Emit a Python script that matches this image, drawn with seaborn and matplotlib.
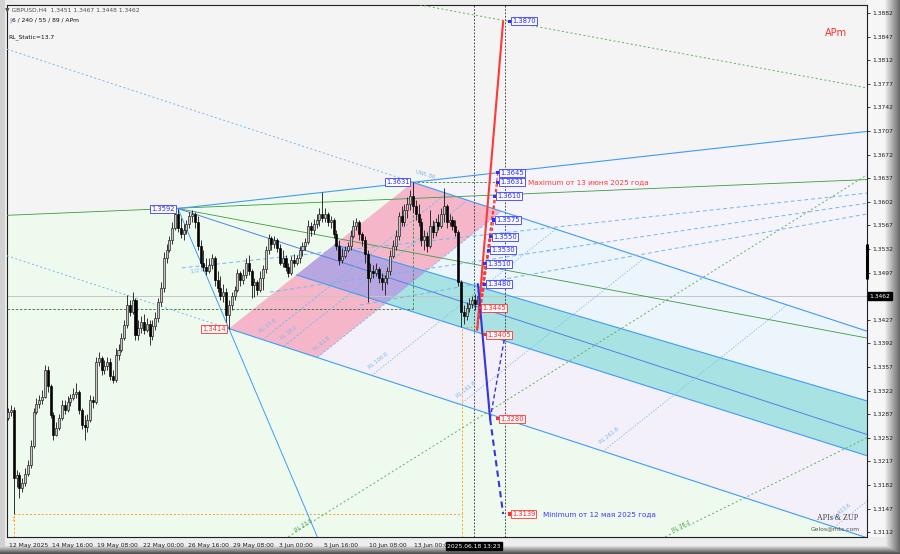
import numpy as np
import pandas as pd
import matplotlib
matplotlib.use("Agg")
import matplotlib.pyplot as plt
import matplotlib.transforms as mtransforms
from matplotlib.patches import Polygon
import seaborn as sns

sns.set_theme(style="white")
plt.rcParams["font.family"] = ["DejaVu Sans"]

# ---------------- GBPUSD H4 candles (bar 1 .. 167) ----------------
closes = [
    1.3290, 1.3293, 1.3192, 1.3197, 1.3178, 1.3185, 1.3198, 1.3212, 1.3240, 1.3290,
    1.3302, 1.3308, 1.3313, 1.3353, 1.3329, 1.3286, 1.3256, 1.3267, 1.3281, 1.3301,
    1.3293, 1.3305, 1.3311, 1.3317, 1.3320, 1.3293, 1.3271, 1.3268, 1.3278, 1.3308,
    1.3305, 1.3364, 1.3370, 1.3353, 1.3358, 1.3364, 1.3344, 1.3338, 1.3375, 1.3382,
    1.3400, 1.3419, 1.3449, 1.3439, 1.3456, 1.3405, 1.3415, 1.3424, 1.3412, 1.3421,
    1.3403, 1.3418, 1.3430, 1.3453, 1.3474, 1.3518, 1.3530, 1.3545, 1.3563, 1.3584,
    1.3563, 1.3554, 1.3560, 1.3569, 1.3581, 1.3584, 1.3572, 1.3536, 1.3512, 1.3506,
    1.3500, 1.3509, 1.3518, 1.3486, 1.3474, 1.3462, 1.3468, 1.3434, 1.3449, 1.3462,
    1.3471, 1.3497, 1.3486, 1.3494, 1.3512, 1.3500, 1.3478, 1.3483, 1.3471, 1.3489,
    1.3503, 1.3530, 1.3548, 1.3539, 1.3545, 1.3533, 1.3512, 1.3518, 1.3506, 1.3497,
    1.3515, 1.3512, 1.3518, 1.3530, 1.3536, 1.3542, 1.3566, 1.3560, 1.3569, 1.3575,
    1.3584, 1.3578, 1.3584, 1.3572, 1.3575, 1.3554, 1.3536, 1.3515, 1.3521, 1.3530,
    1.3536, 1.3551, 1.3566, 1.3572, 1.3554, 1.3545, 1.3524, 1.3489, 1.3500, 1.3497,
    1.3503, 1.3489, 1.3483, 1.3489, 1.3500, 1.3521, 1.3536, 1.3551, 1.3581, 1.3572,
    1.3590, 1.3599, 1.3611, 1.3596, 1.3584, 1.3572, 1.3545, 1.3551, 1.3536, 1.3566,
    1.3557, 1.3572, 1.3566, 1.3584, 1.3596, 1.3572, 1.3575, 1.3566, 1.3557, 1.3483,
    1.3439, 1.3433, 1.3444, 1.3450, 1.3456, 1.3451, 1.3462,
]
highs = [
    1.3296, 1.3301, 1.3298, 1.3204, 1.3201, 1.3192, 1.3207, 1.3219, 1.3249, 1.3296,
    1.3311, 1.3316, 1.3323, 1.3360, 1.3358, 1.3332, 1.3290, 1.3275, 1.3287, 1.3308,
    1.3308, 1.3314, 1.3317, 1.3326, 1.3333, 1.3323, 1.3296, 1.3286, 1.3287, 1.3316,
    1.3314, 1.3372, 1.3379, 1.3373, 1.3367, 1.3372, 1.3370, 1.3353, 1.3385, 1.3391,
    1.3407, 1.3427, 1.3464, 1.3456, 1.3468, 1.3459, 1.3427, 1.3433, 1.3436, 1.3430,
    1.3427, 1.3427, 1.3439, 1.3459, 1.3483, 1.3527, 1.3539, 1.3551, 1.3572, 1.3590,
    1.3592, 1.3578, 1.3569, 1.3575, 1.3587, 1.3590, 1.3587, 1.3581, 1.3545, 1.3530,
    1.3518, 1.3518, 1.3524, 1.3521, 1.3500, 1.3492, 1.3480, 1.3474, 1.3456, 1.3468,
    1.3477, 1.3503, 1.3500, 1.3503, 1.3518, 1.3523, 1.3503, 1.3489, 1.3486, 1.3500,
    1.3508, 1.3536, 1.3554, 1.3551, 1.3551, 1.3548, 1.3539, 1.3530, 1.3523, 1.3512,
    1.3521, 1.3524, 1.3523, 1.3536, 1.3542, 1.3548, 1.3575, 1.3572, 1.3577, 1.3584,
    1.3593, 1.3617, 1.3593, 1.3587, 1.3581, 1.3578, 1.3560, 1.3545, 1.3533, 1.3536,
    1.3542, 1.3560, 1.3575, 1.3578, 1.3575, 1.3557, 1.3551, 1.3530, 1.3512, 1.3509,
    1.3512, 1.3506, 1.3497, 1.3494, 1.3506, 1.3530, 1.3545, 1.3560, 1.3587, 1.3596,
    1.3599, 1.3609, 1.3620, 1.3631, 1.3605, 1.3599, 1.3578, 1.3560, 1.3557, 1.3590,
    1.3575, 1.3578, 1.3584, 1.3593, 1.3623, 1.3599, 1.3584, 1.3581, 1.3575, 1.3560,
    1.3486, 1.3449, 1.3453, 1.3459, 1.3462, 1.3465, 1.3467,
]
lows = [
    1.3278, 1.3284, 1.3139, 1.3179, 1.3163, 1.3172, 1.3181, 1.3195, 1.3207, 1.3237,
    1.3287, 1.3296, 1.3302, 1.3311, 1.3320, 1.3281, 1.3249, 1.3255, 1.3264, 1.3278,
    1.3287, 1.3290, 1.3299, 1.3308, 1.3311, 1.3287, 1.3265, 1.3249, 1.3261, 1.3275,
    1.3296, 1.3302, 1.3358, 1.3345, 1.3347, 1.3353, 1.3338, 1.3333, 1.3335, 1.3367,
    1.3379, 1.3397, 1.3415, 1.3433, 1.3436, 1.3397, 1.3397, 1.3407, 1.3406, 1.3409,
    1.3390, 1.3397, 1.3412, 1.3424, 1.3447, 1.3468, 1.3512, 1.3527, 1.3539, 1.3560,
    1.3557, 1.3548, 1.3545, 1.3554, 1.3563, 1.3572, 1.3563, 1.3530, 1.3506, 1.3500,
    1.3494, 1.3497, 1.3503, 1.3477, 1.3468, 1.3456, 1.3453, 1.3424, 1.3414, 1.3441,
    1.3456, 1.3468, 1.3477, 1.3480, 1.3489, 1.3494, 1.3459, 1.3461, 1.3464, 1.3468,
    1.3471, 1.3497, 1.3524, 1.3530, 1.3533, 1.3527, 1.3508, 1.3506, 1.3500, 1.3490,
    1.3494, 1.3506, 1.3509, 1.3512, 1.3521, 1.3530, 1.3539, 1.3551, 1.3554, 1.3563,
    1.3566, 1.3572, 1.3572, 1.3566, 1.3563, 1.3548, 1.3530, 1.3509, 1.3512, 1.3518,
    1.3527, 1.3530, 1.3548, 1.3560, 1.3545, 1.3536, 1.3512, 1.3453, 1.3483, 1.3489,
    1.3492, 1.3481, 1.3471, 1.3464, 1.3480, 1.3494, 1.3518, 1.3530, 1.3545, 1.3566,
    1.3566, 1.3578, 1.3590, 1.3587, 1.3575, 1.3566, 1.3536, 1.3530, 1.3527, 1.3533,
    1.3548, 1.3551, 1.3560, 1.3563, 1.3572, 1.3563, 1.3566, 1.3560, 1.3551, 1.3477,
    1.3416, 1.3421, 1.3427, 1.3439, 1.3444, 1.3441, 1.3448,
]
first_open = 1.3281
bars = list(range(1, len(closes) + 1))
opens = [first_open] + closes[:-1]          # each H4 bar opens at the prior close

# ---------------- axes ----------------
date_ticks = [0.65, 16, 32, 48, 64, 80, 96, 112, 128, 144]
date_labels = ["12 May 2025", "14 May 16:00", "19 May 08:00", "22 May 00:00",
               "26 May 16:00", "29 May 08:00", "3 Jun 00:00", "5 Jun 16:00",
               "10 Jun 08:00", "13 Jun 00:00"]
price_ticks = [1.3882, 1.3847, 1.3812, 1.3777, 1.3742, 1.3707, 1.3672, 1.3637,
               1.3602, 1.3567, 1.3532, 1.3497, 1.3462, 1.3427, 1.3392, 1.3357,
               1.3322, 1.3287, 1.3252, 1.3217, 1.3182, 1.3147, 1.3112]
bar_range = (0.6, 304.45)
price_range = (1.31049, 1.38939)
last_price = 1.3462
header_ohlc = [1.3451, 1.3467, 1.3448, 1.3462]
server_time = "2025.06.18 13:23"

# ---------------- pitchfork pivots (bar, price) ----------------
pivot_h1 = (61, 1.3592)
pivot_l1 = (79, 1.3414)
pivot_h2 = (144, 1.3631)
pivot_l2 = (161.4, 1.3416)
may12_low = (3, 1.3139)

# median-zone borders: anchor (bar, price) and slope per bar
zone_top = ((171.3, 1.3471), -0.0001234)
zone_bot = ((164.2, 1.3412), -0.0001330)

rl_levels = [0.236, 0.382, 0.618, 1.0, 1.618, 2.618, 4.236]
rl_names = ["RL 23.6", "RL 38.2", "RL 61.8", "RL 100.0", "RL 161.8", "RL 261.8", "RL 423.6"]

# trend lines: (bar, price) endpoints
green_line_1 = [(0.6, 1.3582), (304.45, 1.3635)]
green_line_2 = [(61, 1.3592), (304.45, 1.3400)]
green_dash_1 = [(146.5, 1.3894), (304.45, 1.3771)]
green_dash_2 = [(99.9, 1.3105), (304.45, 1.3642)]
green_dash_3 = [(233.1, 1.3105), (304.45, 1.3252)]
green_rl_names = ["RL 23.6", "RL 38.2"]
half_ml_lines = [[(62.4, 1.3504), (304.45, 1.3615)],
                 [(93.5, 1.3468), (304.45, 1.3600)],
                 [(125.3, 1.3449), (304.45, 1.3584)]]
box_level = 1.3443
time_marks = [165.6, 176.4]

# ---------------- projection targets ----------------
up_levels = [1.3870, 1.3645, 1.3631, 1.3610, 1.3575, 1.3550, 1.3530, 1.3510, 1.3480]
up_label_bar = [179.0, 174.8, 174.8, 173.7, 173.4, 172.3, 171.6, 170.2, 170.2]
down_levels = [1.3445, 1.3405, 1.3280, 1.3139]
down_label_bar = [168.4, 170.2, 174.8, 179.0]
fan_origin = (166.7, 1.3412)
down_path = [(167.0, 1.3480), (171.3, 1.3280), (175.9, 1.3139)]
down_return = [(171.3, 1.3280), (176.6, 1.3405)]

# ---------------- colours ----------------
C_BLUE = "#3f9cf5"
C_BLUE_L = "#74b6f0"
C_GREEN = "#3e9a3e"
C_GREEN_D = "#5cb25c"
C_RED = "#ff3838"
C_NAVY = "#3434e0"

W, H = 900, 554
PL, PR, PT, PB = 7, 867, 5, 537
fig = plt.figure(figsize=(W / 100, H / 100), dpi=100)

# terminal frame with shaded scale panels
bgax = fig.add_axes([0, 0, 1, 1], zorder=-5)
img = np.full((H, W), 0.93)
cols = np.arange(W)
rv = np.where(cols < 884, 0.965, 0.965 - 0.55 * np.clip((cols - 884) / 15.0, 0, 1))
img[:, PR:] = rv[PR:]
rows = np.arange(H)
bv = np.where(rows < 545, 0.93, 0.93 - 0.62 * np.clip((rows - 545) / 8.0, 0, 1))
img[PB:, :] = np.minimum(img[PB:, :], bv[PB:, None])
img[:, :5] = np.minimum(img[:, :5], 0.82)
img = np.clip(img, 0, 1)
bgax.imshow(np.dstack([img] * 3), aspect="auto", extent=[0, W, H, 0], interpolation="nearest")
bgax.axis("off")

ax = fig.add_axes([PL / W, (H - PB) / H, (PR - PL) / W, (PB - PT) / H], zorder=1)
ax.set_xlim(*bar_range)
ax.set_ylim(*price_range)
ax.set_facecolor("#f4f4f4")
X0, X1 = bar_range
Y0, Y1 = price_range


def at(p, m, b):
    return p[1] + m * (b - p[0])


def cross(p, m1, q, m2):
    b = (q[1] - p[1] + m1 * p[0] - m2 * q[0]) / (m1 - m2)
    return (b, at(p, m1, b))


def poly(pts, color, z, **kw):
    patch = Polygon(pts, closed=True, facecolor=color, edgecolor="none", zorder=z, **kw)
    ax.add_patch(patch)
    return patch


def seg(p, q, **kw):
    ax.plot([p[0], q[0]], [p[1], q[1]], **kw)


def screen_angle(p, q):
    a = ax.transData.transform(p)
    b = ax.transData.transform(q)
    return np.degrees(np.arctan2(b[1] - a[1], b[0] - a[0]))


H1, L1, H2 = pivot_h1, pivot_l1, pivot_h2
mid = ((L1[0] + H2[0]) / 2, (L1[1] + H2[1]) / 2)
m_med = (mid[1] - H1[1]) / (mid[0] - H1[0])
m_hdl = (H2[1] - L1[1]) / (H2[0] - L1[0])
m_a = (H2[1] - H1[1]) / (H2[0] - H1[0])
rl_unit = mid[0] - H1[0]

(zt_p, zt_m), (zb_p, zb_m) = zone_top, zone_bot
zt_h = cross(zt_p, zt_m, L1, m_hdl)
zb_h = cross(zb_p, zb_m, L1, m_hdl)
zt_r = (X1, at(zt_p, zt_m, X1))
zb_r = (X1, at(zb_p, zb_m, X1))
e_r = (X1, at(H2, m_med, X1))
f_r = (X1, at(L1, m_med, X1))
a_r = (X1, at(H2, m_a, X1))

# shaded regions
poly([(X0, green_line_1[0][1]), H1, a_r, (X1, Y0), (X0, Y0)], "#effaee", 1)
poly([H2, a_r, e_r], "#f5f4fa", 1.1)
poly([H2, e_r, zt_r, zt_h], "#ecf4fc", 1.1)
poly([L1, zb_h, zb_r, f_r], "#f3f0f9", 1.1)
poly([zt_h, zt_r, zb_r, zb_h], "#a9e2e3", 1.2)

rl_f = [(L1[0] + k * rl_unit, at(L1, m_med, L1[0] + k * rl_unit)) for k in rl_levels]
rl_e = [cross(p, m_hdl, H2, m_med) for p in rl_f]
pink = poly([L1, H2, rl_e[2], rl_f[2]], "#f6b6ca", 1.3)
purple = poly([zt_h, zt_r, zb_r, zb_h], "#b7a6df", 1.4)
purple.set_clip_path(pink)

# last price and helper levels
sns.lineplot(x=[X0, X1], y=[last_price, last_price], color="#c4c4c4", lw=0.7, ax=ax, zorder=2)
ax.plot([X0, H2[0]], [box_level, box_level], ls=(0, (3, 2)), color="#2f6f2f", lw=0.6, zorder=3)
ax.plot([H2[0], H2[0]], [box_level, H2[1]], ls=(0, (3, 2)), color="#2f8f2f", lw=0.6, zorder=3)
ax.plot([H2[0], time_marks[1]], [H2[1], H2[1]], ls=(0, (3, 2)), color="#2f8f2f", lw=0.6, zorder=3)
for tm in time_marks:
    ax.axvline(tm, color="#222222", ls=(0, (2, 2)), lw=0.6, zorder=3)

# orange marks of the 12 May low
C_OR = "#f5a623"
ax.plot([may12_low[0], pivot_l2[0]], [may12_low[1]] * 2, ls=(0, (2, 2)), color=C_OR, lw=0.7, zorder=3)
ax.plot([may12_low[0]] * 2, [Y0, may12_low[1]], ls=(0, (2, 2)), color=C_OR, lw=0.7, zorder=3)
ax.plot([pivot_l2[0]] * 2, [Y0, pivot_l2[1]], ls=(0, (2, 2)), color=C_OR, lw=0.7, zorder=3)
ax.plot([pivot_l2[0], 167], [pivot_l2[1]] * 2, ls=(0, (2, 2)), color=C_OR, lw=0.7, zorder=3)

# green lines
seg(*green_line_1, color=C_GREEN, lw=0.6, zorder=3)
seg(*green_line_2, color=C_GREEN, lw=0.6, zorder=3)
for gl in (green_dash_1, green_dash_2, green_dash_3):
    seg(*gl, color=C_GREEN_D, lw=0.7, ls=(0, (2, 2.5)), zorder=3)
for gl, name in zip((green_dash_2, green_dash_3), green_rl_names):
    ang = screen_angle(*gl)
    ax.text(gl[0][0] + 3.0, gl[0][1] + 0.0006, name, fontsize=3.8, color="#3f9f3f",
            rotation=ang, rotation_mode="anchor", ha="left", va="bottom", zorder=5)

# pitchfork
seg(H1, a_r, color=C_BLUE, lw=0.8, zorder=3)
seg((X0, at(H2, m_med, X0)), H2, color=C_BLUE_L, lw=0.7, ls=(0, (2, 2.5)), zorder=3)
seg(H2, e_r, color=C_BLUE, lw=0.8, zorder=3)
seg((X0, at(L1, m_med, X0)), L1, color=C_BLUE_L, lw=0.7, ls=(0, (2, 2.5)), zorder=3)
seg(L1, f_r, color=C_BLUE, lw=0.8, zorder=3)
seg(H1, (X1, at(H1, m_med, X1)), color="#4d84e8", lw=0.7, zorder=3)
seg(zt_h, zt_r, color=C_BLUE, lw=0.8, zorder=3)
seg(zb_h, zb_r, color=C_BLUE, lw=0.8, zorder=3)
m_c = (L1[1] - H1[1]) / (L1[0] - H1[0])
seg(H1, (H1[0] + (Y0 - H1[1]) / m_c, Y0), color=C_BLUE, lw=0.7, zorder=3)
for ln in half_ml_lines:
    seg(*ln, color=C_BLUE_L, lw=0.7, ls=(0, (4, 3)), zorder=3)

# reaction lines
for k, pf, pe, name in zip(rl_levels, rl_f, rl_e, rl_names):
    style = (0, (3, 2)) if k < 1 else (0, (1.5, 2))
    seg(pf, pe, color=C_BLUE_L, lw=0.6, ls=style, zorder=3)
    ax.text(pf[0] - 1.5, pf[1] + 0.0009, name, fontsize=3.8, color=C_BLUE_L,
            rotation=38, ha="left", va="bottom", zorder=5)

# candles
df = pd.DataFrame(dict(bar=bars, open=opens, high=highs, low=lows, close=closes))
up = df.close >= df.open
ax.vlines(df.bar, df.low, df.high, color="#151515", lw=0.6, zorder=6)
ax.bar(df.bar[up], (df.close - df.open)[up].clip(lower=0.00005), bottom=df.open[up], width=0.72,
       color="#c8c8c8", edgecolor="#151515", linewidth=0.45, zorder=7)
ax.bar(df.bar[~up], (df.open - df.close)[~up].clip(lower=0.00005), bottom=df.close[~up], width=0.72,
       color="#000000", edgecolor="#000000", linewidth=0.45, zorder=7)

# projection fan to the targets
seg(fan_origin, (time_marks[1] - 0.5, up_levels[0]), color=C_RED, lw=1.5, zorder=8)
for lv, lb in zip(up_levels[1:], up_label_bar[1:]):
    seg(fan_origin, (lb - 0.8, lv), color=C_RED, lw=0.8, ls=(0, (3, 2)), zorder=8)
seg(fan_origin, (down_label_bar[0] - 0.8, down_levels[0]), color=C_RED, lw=0.8, ls=(0, (3, 2)), zorder=8)
seg(down_path[0], down_path[1], color=C_NAVY, lw=1.5, zorder=8)
seg(down_path[1], down_path[2], color=C_NAVY, lw=1.5, ls=(0, (3, 2)), zorder=8)
seg(*down_return, color=C_NAVY, lw=1.0, ls=(0, (3, 2)), zorder=8)

mk = pd.DataFrame(dict(bar=[b - 0.8 for b in up_label_bar + down_label_bar],
                       price=up_levels + down_levels,
                       side=["up"] * len(up_levels) + ["down"] * len(down_levels)))
sns.scatterplot(data=mk, x="bar", y="price", hue="side", palette={"up": "#2f2fff", "down": "#ff2f2f"},
                marker="s", s=5, linewidth=0, legend=False, ax=ax, zorder=9)

BOX_FS = 4.9
for lv, lb in zip(up_levels, up_label_bar):
    ax.text(lb, lv, f"{lv:.4f}", fontsize=BOX_FS, color="#2b2bff", ha="left", va="center", zorder=10,
            bbox=dict(boxstyle="square,pad=0.15", fc="#f8f8ff", ec="#3a3aff", lw=0.6))
for lv, lb in zip(down_levels, down_label_bar):
    ax.text(lb, lv, f"{lv:.4f}", fontsize=BOX_FS, color="#ff2a2a", ha="left", va="center", zorder=10,
            bbox=dict(boxstyle="square,pad=0.15", fc="#fff8f8", ec="#ff3030", lw=0.6))
for piv, col, ec in ((H1, "#2b2bff", "#3a3aff"), (H2, "#2b2bff", "#3a3aff"), (L1, "#ff2a2a", "#ff3030")):
    ax.text(piv[0] - 1.2, piv[1], f"{piv[1]:.4f}", fontsize=BOX_FS, color=col, ha="right", va="center",
            zorder=10, bbox=dict(boxstyle="square,pad=0.15", fc="white", ec=ec, lw=0.6))

ax.text(184.7, up_levels[2], "Maximum от 13 июня 2025 года", fontsize=5.2, color="#ff3b3b",
        ha="left", va="center", zorder=10)
ax.text(190.0, down_levels[3], "Minimum от 12 мая 2025 года", fontsize=5.2, color="#3a3aff",
        ha="left", va="center", zorder=10)
ax.text(H2[0] + 0.5, H2[1] + 0.0003, "UWL 86", fontsize=3.8, color=C_BLUE_L, rotation=-17,
        ha="left", va="bottom", zorder=5)
ax.text(65.5, 1.3500, "1/2 ML", fontsize=3.8, color=C_BLUE_L, rotation=5, ha="left", va="center", zorder=5)
ax.text(may12_low[0] - 0.3, may12_low[1] - 0.0004, "2", fontsize=3.8, color=C_OR, ha="center", va="top", zorder=5)

# scales
ax.set_xlabel("")
ax.set_ylabel("")
ax.yaxis.tick_right()
ax.set_yticks(price_ticks)
ax.set_yticklabels(["" if abs(p - last_price) < 1e-6 else f"{p:.4f}" for p in price_ticks])
ax.set_xticks(date_ticks)
ax.set_xticklabels(date_labels)
ax.tick_params(axis="y", length=2.5, width=0.6, pad=1.5, labelsize=4.3, colors="#1e1e1e")
ax.tick_params(axis="x", length=3, width=0.6, pad=1.0, labelsize=4.3, colors="#1e1e1e")
off = mtransforms.ScaledTranslation(1.5 / 100, 0, fig.dpi_scale_trans)
for lbl in ax.get_xticklabels():
    lbl.set_horizontalalignment("left")
    lbl.set_transform(lbl.get_transform() + off)
for sp in ax.spines.values():
    sp.set_color("#202020")
    sp.set_linewidth(0.8)
ax.grid(False)

ax.text(1.003, last_price, f"{last_price:.4f}", transform=ax.get_yaxis_transform(), fontsize=4.3,
        color="white", ha="left", va="center", zorder=11,
        bbox=dict(boxstyle="square,pad=0.25", fc="black", ec="black"))
ax.plot([1.0, 1.0], [1.3538, 1.3489], transform=ax.get_yaxis_transform(), color="black", lw=2.2,
        clip_on=False, zorder=11)
ax.text(165.5, -0.017, server_time, transform=ax.get_xaxis_transform(), fontsize=4.3, color="white",
        ha="center", va="center", zorder=11, bbox=dict(boxstyle="square,pad=0.2", fc="black", ec="black"))

# header and captions
o, h, l, c = header_ohlc
fig.text(5 / W, 1 - 10 / H, f"▼ GBPUSD,H4  {o:.4f} {h:.4f} {l:.4f} {c:.4f}", fontsize=4.3,
         color="#505050", ha="left", va="center")
fig.text(9 / W, 1 - 20.5 / H, "|", fontsize=4.6, color="#3a7ad8", ha="left", va="center")
fig.text(12 / W, 1 - 20.5 / H, "6 / 240 / 55 / 89 / APm", fontsize=4.3, color="#111111",
         ha="left", va="center")
fig.text(8 / W, 1 - 37 / H, "RL_Static=13.7", fontsize=4.3, color="#111111", ha="left", va="center")
fig.text(825 / W, 1 - 33 / H, "APm", fontsize=7, color="#ff3030", ha="left", va="center")
fig.text(858 / W, 1 - 518 / H, "APIs & ZUP", fontsize=5.8, color="#404040", ha="right", va="center",
         family=["Liberation Serif", "DejaVu Serif"])
fig.text(860 / W, 1 - 529 / H, "Gelos@mts.com", fontsize=4.3, color="#505050", ha="right", va="center")

fig.savefig("out.png", dpi=100)
